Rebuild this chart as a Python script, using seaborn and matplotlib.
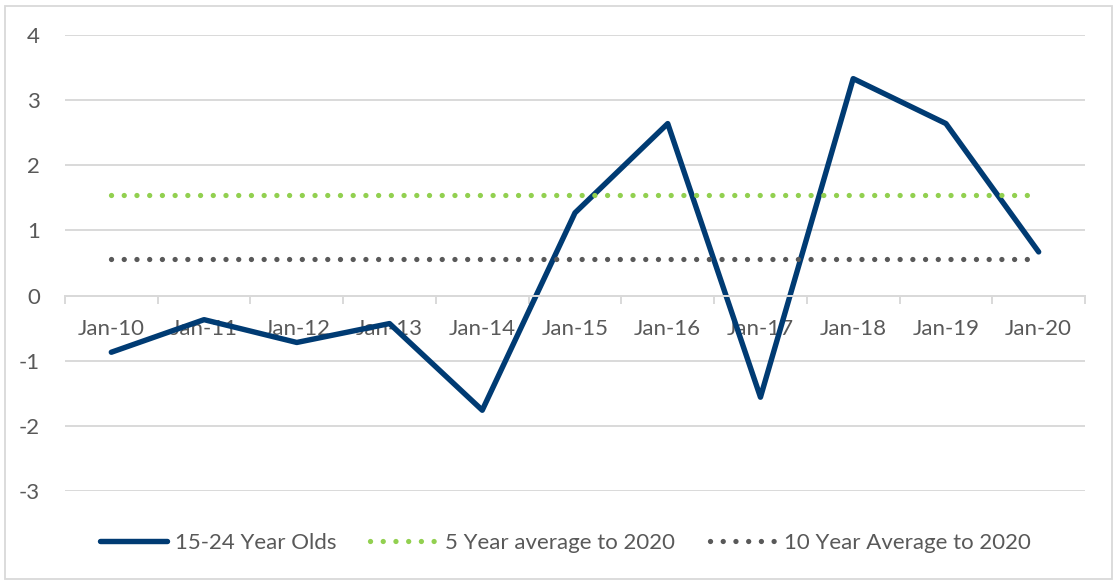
import numpy as np
import pandas as pd
import matplotlib.pyplot as plt
import seaborn as sns
from matplotlib.patches import Rectangle

# values
months = ['Jan-10', 'Jan-11', 'Jan-12', 'Jan-13', 'Jan-14', 'Jan-15',
          'Jan-16', 'Jan-17', 'Jan-18', 'Jan-19', 'Jan-20']
youth = [-0.87, -0.37, -0.72, -0.43, -1.76, 1.27, 2.64, -1.56, 3.33, 2.64, 0.67]
avg_5yr = 1.54
avg_10yr = 0.56
y_ticks = [-3, -2, -1, 0, 1, 2, 3, 4]

df = pd.DataFrame({'pos': range(len(months)), 'month': months, 'youth': youth})
df['avg5'] = avg_5yr
df['avg10'] = avg_10yr

sns.set_theme(style='white')
plt.rcParams['font.family'] = ['Lato', 'DejaVu Sans']
plt.rcParams['axes.unicode_minus'] = False

grey_text = '#595959'
grid_col = '#D9D9D9'
fs = 16

fig = plt.figure(figsize=(11.14, 5.81), dpi=100)
ax = fig.add_axes([0.0583, 0.1549, 0.9157, 0.7849])

dots = (0, (0.01, 2.4))
sns.lineplot(data=df, x='pos', y='youth', color='#003B73', lw=3.9,
             solid_capstyle='round', label='15-24 Year Olds', ax=ax)
sns.lineplot(data=df, x='pos', y='avg5', color='#92D050', lw=3.8,
             linestyle=dots, dash_capstyle='round',
             label='5 Year average to 2020', ax=ax)
sns.lineplot(data=df, x='pos', y='avg10', color='#595959', lw=3.8,
             linestyle=dots, dash_capstyle='round',
             label='10 Year Average to 2020', ax=ax)

ax.set_xlim(-0.5, len(months) - 0.5)
ax.set_ylim(-3, 4)
ax.set_yticks(y_ticks)
ax.set_xlabel('')
ax.set_ylabel('')
ax.set_axisbelow(True)
ax.yaxis.grid(True, color=grid_col, lw=1.4)
ax.xaxis.grid(False)

for side in ['top', 'right', 'left']:
    ax.spines[side].set_visible(False)
ax.spines['bottom'].set_position(('data', 0))
ax.spines['bottom'].set_color(grid_col)
ax.spines['bottom'].set_linewidth(1.4)

# category boundaries as major ticks, labels on minor ticks at centres
ax.set_xticks(np.arange(-0.5, len(months), 1))
ax.set_xticklabels([])
ax.set_xticks(range(len(months)), minor=True)
ax.set_xticklabels(months, minor=True)
ax.tick_params(axis='x', which='major', length=6, width=1.4, color=grid_col,
               direction='out', bottom=True)
ax.tick_params(axis='x', which='minor', length=0, pad=17, labelsize=fs,
               labelcolor=grey_text, bottom=True)
ax.tick_params(axis='y', length=0, pad=18, labelsize=fs, labelcolor=grey_text)

handles, labels = ax.get_legend_handles_labels()
if ax.get_legend() is not None:
    ax.get_legend().remove()
fig.legend(handles, labels, loc='center', bbox_to_anchor=(0.5076, 0.0654),
           ncol=3, frameon=False, fontsize=fs, handlelength=3.0,
           handletextpad=0.36, columnspacing=1.55, labelcolor=grey_text)

fig.add_artist(Rectangle((0.0048, 0.0034), 0.993, 0.9866, transform=fig.transFigure,
                         fill=False, edgecolor=grid_col, lw=1.3))

fig.savefig('out.png', dpi=100)
